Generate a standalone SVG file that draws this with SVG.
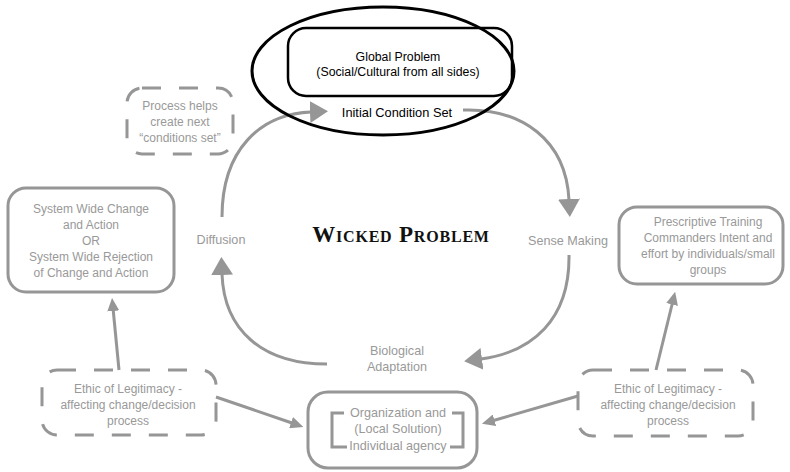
<svg xmlns="http://www.w3.org/2000/svg" width="790" height="472" viewBox="0 0 790 472">
<style>
.t{font-family:"Liberation Sans",Arial,sans-serif;font-size:12px;fill:#999;text-anchor:middle}
.l{font-size:12.6px}
.tb{font-family:"Liberation Sans",Arial,sans-serif;font-size:12.3px;fill:#000;text-anchor:middle}
.box{fill:none;stroke:#969696;stroke-width:3}
.dash{fill:none;stroke:#969696;stroke-width:3;stroke-dasharray:19 18}
.arc{fill:none;stroke:#969696;stroke-width:3}
.title{font-family:"Liberation Serif","Times New Roman",serif;font-size:23px;font-weight:bold;font-variant:small-caps;fill:#111;text-anchor:middle;letter-spacing:0.8px}
</style>
<defs>
<marker id="big" markerUnits="userSpaceOnUse" markerWidth="18" markerHeight="22" refX="1" refY="11" orient="auto">
<path d="M0,0 L18,11 L0,22 Z" fill="#969696"/>
</marker>
<marker id="small" markerUnits="userSpaceOnUse" markerWidth="13" markerHeight="12" refX="1" refY="6" orient="auto">
<path d="M0,0 L13,6 L0,12 Z" fill="#969696"/>
</marker>
</defs>
<rect width="790" height="472" fill="#fff"/>

<g id="connectors">
<path class="arc" d="M222,217 C222,150 260,114 311,112" marker-end="url(#big)"/>
<path class="arc" d="M463,110 C522,108 566,140 569,200" marker-end="url(#big)"/>
<path class="arc" d="M569,255 C570,320 532,352 481,359" marker-end="url(#big)"/>
<path class="arc" d="M327,364 C262,364 224,330 222,274" marker-end="url(#big)"/>
<path class="arc" d="M119,370 L113.2,310" marker-end="url(#small)"/>
<path class="arc" d="M216,397 L292,423" marker-end="url(#small)"/>
<path class="arc" d="M656,370 L672.3,303.5" marker-end="url(#small)"/>
<path class="arc" d="M578,396 L493.5,420.5" marker-end="url(#small)"/>
</g>

<g id="global">
<ellipse cx="383" cy="71" rx="131" ry="64" fill="none" stroke="#000" stroke-width="3"/>
<rect x="288" y="28" width="224" height="68" rx="18" fill="none" stroke="#000" stroke-width="2.5"/>
<text class="tb" x="398" y="61">Global Problem</text>
<text class="tb" x="398" y="76">(Social/Cultural from all sides)</text>
<text class="tb" x="397" y="117" style="font-size:12.8px">Initial Condition Set</text>
</g>

<g id="process">
<rect class="dash" x="127" y="88" width="106" height="66" rx="15"/>
<text class="t" x="180" y="110">Process helps</text>
<text class="t" x="180" y="126">create next</text>
<text class="t" x="180" y="142">“conditions set”</text>
</g>

<g id="systemwide">
<rect class="box" x="8" y="188" width="166" height="104" rx="18"/>
<text class="t" x="91" y="213">System Wide Change</text>
<text class="t" x="91" y="229">and Action</text>
<text class="t" x="91" y="245">OR</text>
<text class="t" x="91" y="261">System Wide Rejection</text>
<text class="t" x="91" y="277">of Change and Action</text>
</g>

<g id="prescriptive">
<rect class="box" x="619" y="207" width="164" height="77" rx="18"/>
<text class="t" x="708" y="226">Prescriptive Training</text>
<text class="t" x="708" y="242">Commanders Intent and</text>
<text class="t" x="708" y="258">effort by individuals/small</text>
<text class="t" x="708" y="274">groups</text>
</g>

<g id="ethic-left">
<rect class="dash" x="42" y="370" width="174" height="65" rx="15"/>
<text class="t" x="128" y="393">Ethic of Legitimacy -</text>
<text class="t" x="128" y="409">affecting change/decision</text>
<text class="t" x="128" y="425">process</text>
</g>

<g id="ethic-right">
<rect class="dash" x="578" y="370" width="175" height="66" rx="15"/>
<text class="t" x="668" y="393">Ethic of Legitimacy -</text>
<text class="t" x="668" y="409">affecting change/decision</text>
<text class="t" x="668" y="425">process</text>
</g>

<g id="organization">
<rect class="box" x="308" y="392" width="169" height="76" rx="20"/>
<path class="box" d="M344,413 L332,413 L332,447 L347,447"/>
<path class="box" d="M452,413 L463,413 L463,447 L450,447"/>
<text class="t l" x="398" y="417">Organization and</text>
<text class="t l" x="398" y="433">(Local Solution)</text>
<text class="t l" x="398" y="450">Individual agency</text>
</g>

<g id="labels">
<text class="t l" x="221" y="244">Diffusion</text>
<text class="t l" x="568" y="245">Sense Making</text>
<text class="t l" x="397" y="355">Biological</text>
<text class="t l" x="397" y="371">Adaptation</text>
<text class="title" x="401" y="242">Wicked Problem</text>
</g>
</svg>
